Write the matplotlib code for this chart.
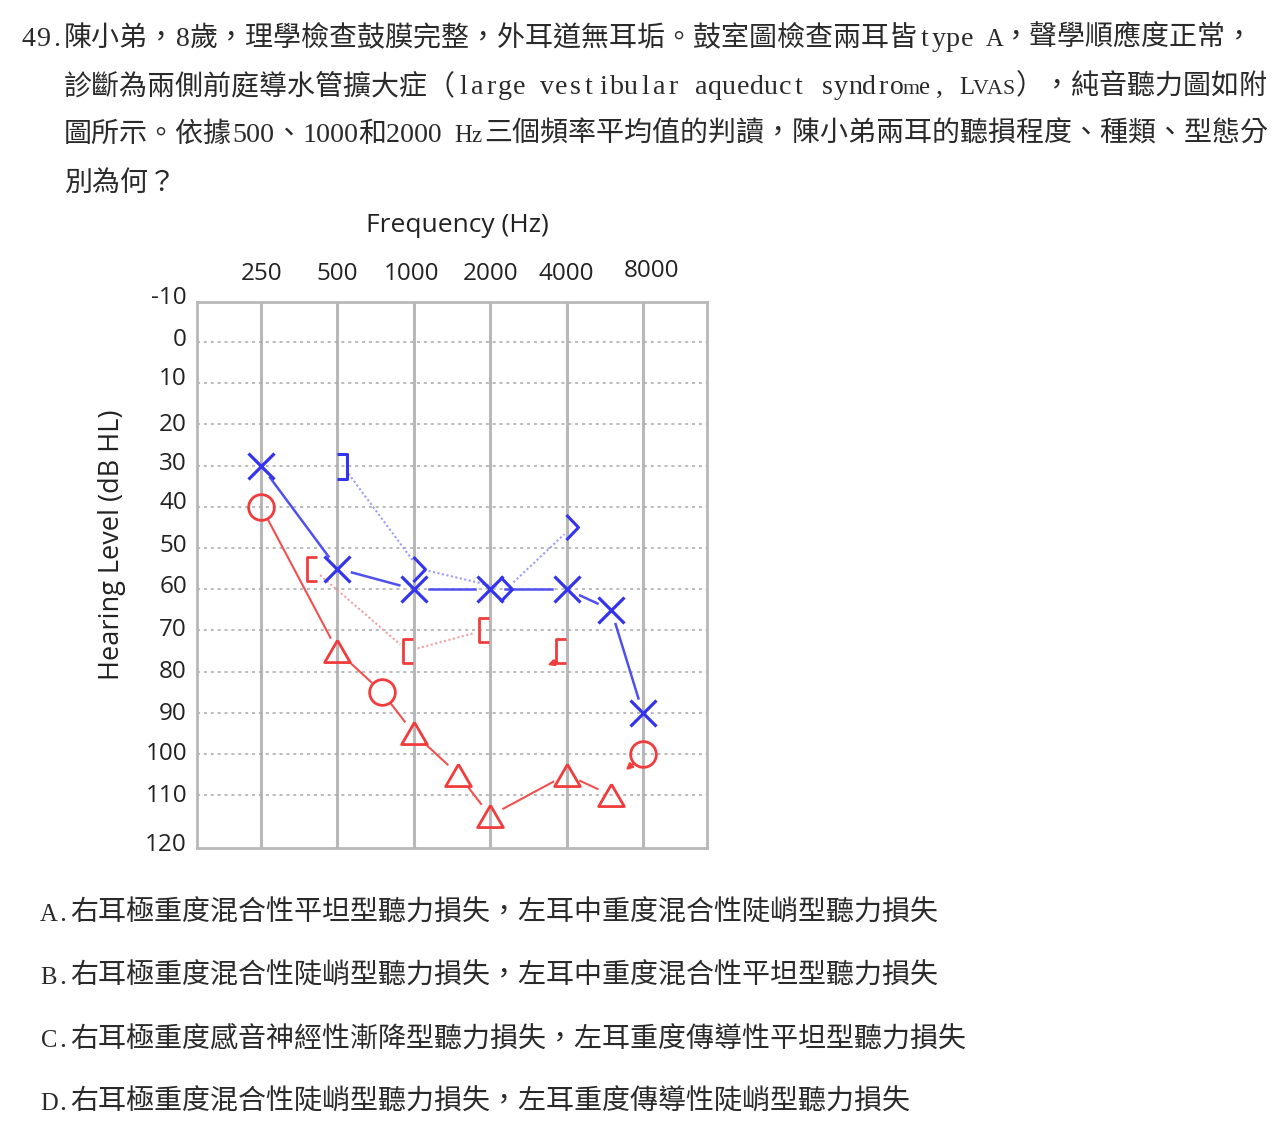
import numpy as np
import matplotlib
matplotlib.use("Agg")
from matplotlib import pyplot as plt
from matplotlib.path import Path
from matplotlib.transforms import ScaledTranslation

W, H, DPI = 1273, 1133, 100

# ---- values ----
octave_freqs = [250, 500, 1000, 2000, 4000, 8000]
octave_labels = ["250", "500", "1000", "2000", "4000", "8000"]
db_ticks = [-10, 0, 10, 20, 30, 40, 50, 60, 70, 80, 90, 100, 110, 120]
db_grid = [0, 10, 20, 30, 40, 50, 60, 70, 80, 90, 100, 110]

# right ear (red): air conduction, O = unmasked, triangle = masked
right_ac_freq = [250, 500, 750, 1000, 1500, 2000, 4000, 6000]
right_ac_db = [40, 75, 85, 95, 105, 115, 105, 110]
right_ac_sym = ["o", "tri", "o", "tri", "tri", "tri", "tri", "tri"]
right_ac_nr_freq = [8000]
right_ac_nr_db = [100]
# right ear masked bone conduction "["
right_bc_freq = [500, 1000, 2000]
right_bc_db = [55, 75, 70]
right_bc_nr_freq = [4000]
right_bc_nr_db = [75]

# left ear (blue): air conduction X
left_ac_freq = [250, 500, 1000, 2000, 4000, 6000, 8000]
left_ac_db = [30, 55, 60, 60, 60, 65, 90]
# left ear bone conduction, "]" masked, ">" unmasked
left_bc_freq = [500, 1000, 2000, 4000]
left_bc_db = [30, 55, 60, 45]
left_bc_sym = ["]", ">", ">", ">"]

question_lines = [
    "49.陳小弟，8歲，理學檢查鼓膜完整，外耳道無耳垢。鼓室圖檢查兩耳皆type A，聲學順應度正常，",
    "診斷為兩側前庭導水管擴大症（large vestibular aqueduct syndrome, LVAS），純音聽力圖如附",
    "圖所示。依據500、1000和2000 Hz三個頻率平均值的判讀，陳小弟兩耳的聽損程度、種類、型態分",
    "別為何？",
]
options = [
    "A.右耳極重度混合性平坦型聽力損失，左耳中重度混合性陡峭型聽力損失",
    "B.右耳極重度混合性陡峭型聽力損失，左耳中重度混合性平坦型聽力損失",
    "C.右耳極重度感音神經性漸降型聽力損失，左耳重度傳導性平坦型聽力損失",
    "D.右耳極重度混合性陡峭型聽力損失，左耳重度傳導性陡峭型聽力損失",
]

# ---- style ----
RED = "#f03c3c"
RED_LINE = "#f05050"
RED_DOT = "#f2a0a0"
BLUE = "#3434ee"
BLUE_LINE = "#5050f0"
BLUE_DOT = "#9a9aff"
GRID = "#b8b8b8"
TXT = "#222222"
PAGE_TXT = "#2a2a2a"

right_bc_dx = [-25, -6, -6]
right_bc_nr_dx = [-6]
left_bc_dx = [5, 5, 16, 5]

M = Path.MOVETO
L = Path.LINETO
tri_path = Path([(0, 0.43), (-0.5, -0.43), (0.5, -0.43), (0, 0.43)], [M, L, L, L])
lbr_path = Path([(0.2, 0.5), (-0.2, 0.5), (-0.2, -0.5), (0.2, -0.5)], [M, L, L, L])
rbr_path = Path([(-0.2, 0.5), (0.2, 0.5), (0.2, -0.5), (-0.2, -0.5)], [M, L, L, L])
chev_path = Path([(-0.24, 0.5), (0.24, 0), (-0.24, -0.5)], [M, L, L])
sym_marker = {"o": "o", "tri": tri_path, "[": lbr_path, "]": rbr_path, ">": chev_path}

fig = plt.figure(figsize=(W / DPI, H / DPI), dpi=DPI)
renderer = fig.canvas.get_renderer()
ax_top, ax_bot = 302, 848
ax = fig.add_axes([197 / W, 1 - ax_bot / H, (707 - 197) / W, (ax_bot - ax_top) / H])
ax.set_xscale("log", base=2)
ax.set_xlim(250 * 2 ** -0.84, 8000 * 2 ** 0.84)
# 0 dB sits at 342 px and 100 dB at 754 px; the frame runs a little past 120
px_per_db = (754 - 342) / 100
ax.set_ylim((ax_bot - 342) / px_per_db, -(342 - ax_top) / px_per_db)
ax.set_xticks([])
ax.set_xticks([], minor=True)
ax.set_yticks([])
for s in ax.spines.values():
    s.set_color(GRID)
    s.set_linewidth(2)

for f in octave_freqs:
    ax.axvline(f, color=GRID, lw=2.2, zorder=1)
for d in db_grid:
    ax.axhline(d, color="#a8a8a8", lw=1.1, ls=(0, (2, 2.5)), zorder=1)

# frequency labels above the frame
label_dx = [0, 0, -2, 0, 0, 9]
label_dy = [0, 0, 0, 0, 0, 3]
for f, lab, dx, dy in zip(octave_freqs, octave_labels, label_dx, label_dy):
    tr = ax.get_xaxis_transform() + ScaledTranslation(dx / DPI, (dy + 28) / DPI, fig.dpi_scale_trans)
    ax.text(f, 1, lab, transform=tr, ha="center", va="center", fontsize=17.5,
            family="Open Sans", color=TXT)

# level labels left of the frame (the 120 label sits on the bottom edge)
ytick_dy = [3, 2, 4, -1, 2, 4, 2, 2, 0, 0, -1, 0, -1, -9]
for d, dy in zip(db_ticks, ytick_dy):
    tr = ax.get_yaxis_transform() + ScaledTranslation(-10 / DPI, dy / DPI, fig.dpi_scale_trans)
    ax.text(0, d, str(d), transform=tr, ha="right", va="center", fontsize=17.5,
            family="Open Sans", color=TXT)

fig.text(457 / W, 1 - 225 / H, "Frequency (Hz)", ha="center", va="center",
         fontsize=19, family="Open Sans", color=TXT)
fig.text(112 / W, 1 - 545 / H, "Hearing Level (dB HL)", ha="center", va="center",
         rotation=90, fontsize=19.5, family="Open Sans", color=TXT)


def shift(dx, dy=0):
    return ax.transData + ScaledTranslation(dx / DPI, dy / DPI, fig.dpi_scale_trans)


def gapped(xs, ys, dxs, gap, **kw):
    pts = ax.transData.transform(np.column_stack([xs, ys]))
    pts[:, 0] += np.asarray(dxs, dtype=float)
    inv = ax.transData.inverted()
    for a, b in zip(pts[:-1], pts[1:]):
        u = (b - a) / np.hypot(*(b - a))
        seg = inv.transform(np.array([a + u * gap, b - u * gap]))
        ax.plot(seg[:, 0], seg[:, 1], **kw)


def nr_arrow(f, d, tail, head, color):
    ax.annotate("", xy=(f, d), xycoords=shift(*head), xytext=(f, d), textcoords=shift(*tail),
                arrowprops=dict(arrowstyle="-|>", color=color, lw=1.6, mutation_scale=9,
                                shrinkA=0, shrinkB=0), zorder=5)


# connecting lines
gapped(right_ac_freq, right_ac_db, [0] * len(right_ac_freq), 15, color=RED_LINE, lw=1.5, zorder=3)
gapped(left_ac_freq, left_ac_db, [0] * len(left_ac_freq), 15, color=BLUE_LINE, lw=1.8, zorder=3)
gapped(right_bc_freq, right_bc_db, right_bc_dx, 10, color=RED_DOT, lw=1.5, ls=(0, (1, 1.2)), zorder=2)
gapped(left_bc_freq, left_bc_db, left_bc_dx, 10, color=BLUE_DOT, lw=1.5, ls=(0, (1, 1.2)), zorder=2)

# markers
for f, d, s in zip(right_ac_freq, right_ac_db, right_ac_sym):
    ax.plot(f, d, marker=sym_marker[s], ms=18.5, mfc="none", mec=RED, mew=2, ls="none", zorder=4)
for f, d in zip(right_ac_nr_freq, right_ac_nr_db):
    ax.plot(f, d, marker="o", ms=18.5, mfc="none", mec=RED, mew=2, ls="none", zorder=4)
    nr_arrow(f, d, (-9, -9), (-17, -16), RED)
for f, d, dx in zip(right_bc_freq, right_bc_db, right_bc_dx):
    ax.plot(f, d, marker=lbr_path, ms=17, mfc="none", mec=RED, mew=2, ls="none",
            transform=shift(dx), zorder=4)
for f, d, dx in zip(right_bc_nr_freq, right_bc_nr_db, right_bc_nr_dx):
    ax.plot(f, d, marker=lbr_path, ms=17, mfc="none", mec=RED, mew=2, ls="none",
            transform=shift(dx), zorder=4)
    nr_arrow(f, d, (dx - 4, -11), (dx - 13, -14), RED)
for f, d in zip(left_ac_freq, left_ac_db):
    ax.plot(f, d, marker="x", ms=19, mec=BLUE, mew=2.3, ls="none", zorder=4)
for f, d, s, dx in zip(left_bc_freq, left_bc_db, left_bc_sym, left_bc_dx):
    ax.plot(f, d, marker=sym_marker[s], ms=18, mfc="none", mec=BLUE, mew=2.2, ls="none",
            transform=shift(dx), zorder=4)


# ---- question text, laid out on a full/half width grid like the printed page ----
def put_line(x0, yc, s, em):
    fs = em * 72 / DPI
    base = 1 - (yc + em * 0.39) / H
    runs = []
    for ch in s:
        full = ord(ch) > 0x2000
        if runs and runs[-1][0] == full:
            runs[-1][1] += ch
        else:
            runs.append([full, ch])
    x = x0
    for full, run in runs:
        if full:
            fig.text(x / W, base, run, fontsize=fs, family="Noto Sans CJK TC",
                     ha="left", va="baseline", color=PAGE_TXT)
            x += len(run) * em
            continue
        prev = None
        for ch in run:
            if ch == " ":
                prev = None
                x += em / 2
                continue
            t = fig.text((x + em / 4) / W, base, ch, fontsize=fs, family="Liberation Serif",
                         ha="center", va="baseline", color=PAGE_TXT)
            # narrow the wide letters a little so they keep near their half-width cell
            w = t.get_window_extent(renderer).width
            scale = max(0.88, em / 2 / w) if w > em / 2 else 1.0
            t.set_fontsize(fs * scale)
            # and a touch more if it still runs into the letter before it
            while prev is not None and scale > 0.78 and \
                    t.get_window_extent(renderer).x0 < prev.get_window_extent(renderer).x1:
                scale -= 0.02
                t.set_fontsize(fs * scale)
            prev = t
            x += em / 2


q_x0 = [22, 64, 64, 64]
q_yc = [35, 83, 131, 180]
for x0, yc, s in zip(q_x0, q_yc, question_lines):
    put_line(x0, yc, s, 28)

opt_yc = [910, 973, 1036, 1099]
for yc, s in zip(opt_yc, options):
    put_line(42, yc, s, 28)

fig.savefig("out.png", dpi=DPI, facecolor="white")
